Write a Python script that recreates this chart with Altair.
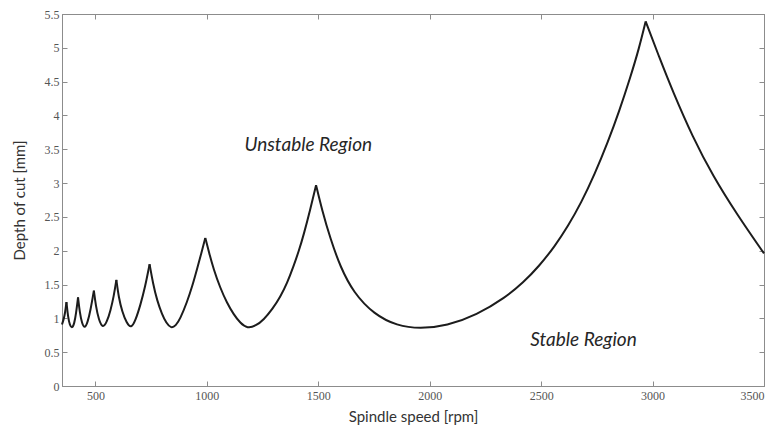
import altair as alt
import pandas as pd

# Stability lobes: each list runs from one cusp to the next
seg_speed = [
    [350, 357, 364, 370],
    [370, 377, 385, 395, 405, 413, 422],
    [422, 430, 440, 452, 465, 478, 493],
    [493, 502, 515, 533, 552, 568, 582, 594],
    [594, 605, 620, 640, 660, 680, 702, 722, 743],
    [743, 758, 777, 799, 818, 840, 860, 880, 911, 935, 956, 975, 993],
    [993, 1010, 1030, 1060, 1090, 1120, 1150, 1182, 1220, 1255, 1295, 1330,
     1360, 1389, 1414, 1434, 1464, 1490],
    [1490, 1517, 1554, 1599, 1658, 1750, 1853, 1957, 2077, 2211, 2340, 2420,
     2490, 2560, 2620, 2680, 2740, 2800, 2850, 2900, 2940, 2969],
    [2969, 3030, 3090, 3180, 3270, 3380, 3500],
]
seg_depth = [
    [0.91, 0.98, 1.08, 1.24],
    [1.24, 1.02, 0.90, 0.85, 0.92, 1.07, 1.31],
    [1.31, 1.08, 0.92, 0.85, 0.94, 1.12, 1.41],
    [1.41, 1.18, 0.98, 0.85, 0.95, 1.12, 1.32, 1.57],
    [1.57, 1.30, 1.10, 0.93, 0.85, 0.97, 1.20, 1.45, 1.80],
    [1.80, 1.52, 1.26, 1.06, 0.93, 0.85, 0.89, 0.99, 1.24, 1.48, 1.73, 1.96, 2.19],
    [2.19, 1.97, 1.73, 1.45, 1.23, 1.06, 0.93, 0.85, 0.89, 0.98, 1.14, 1.32,
     1.52, 1.77, 2.01, 2.23, 2.61, 2.97],
    [2.97, 2.60, 2.18, 1.76, 1.38, 1.06, 0.89, 0.845, 0.89, 1.05, 1.31, 1.53,
     1.77, 2.06, 2.36, 2.71, 3.13, 3.61, 4.06, 4.56, 5.00, 5.39],
    [5.39, 4.86, 4.36, 3.68, 3.11, 2.53, 1.96],
]

x_ticks = [500, 1000, 1500, 2000, 2500, 3000, 3500]
y_ticks = [0, 0.5, 1, 1.5, 2, 2.5, 3, 3.5, 4, 4.5, 5, 5.5]

region_labels = ["Unstable Region", "Stable Region"]
region_speed = [1455, 2690]
region_depth = [3.57, 0.68]

rows = []
for i, (xs, ys) in enumerate(zip(seg_speed, seg_depth)):
    for s, d in zip(xs, ys):
        rows.append({"speed": s, "depth": d, "lobe": i})
lobes = pd.DataFrame(rows)
labels = pd.DataFrame({"speed": region_speed, "depth": region_depth,
                       "text": region_labels})

AXIS_GREY = "#8c8c8c"
x_scale = alt.Scale(domain=[350, 3500], nice=False, zero=False)
y_scale = alt.Scale(domain=[0, 5.5], nice=False)
inward = alt.ExprRef(expr="-5")

common_axis = dict(grid=False, domainColor=AXIS_GREY, tickColor=AXIS_GREY,
                   domainWidth=1, tickWidth=1, tickSize=inward)

# B-spline through each lobe keeps the cusps (segment ends) sharp
curve = alt.Chart(lobes).mark_line(
    color="#1c1c1c", strokeWidth=2, interpolate="basis"
).encode(
    x=alt.X("speed:Q", scale=x_scale,
            axis=alt.Axis(values=x_ticks, format="d",
                          title="Spindle speed [rpm]",
                          labelFont="Liberation Serif", labelFontSize=12,
                          labelColor="#555555", labelPadding=9,
                          titleFont="Lato", titleFontSize=15,
                          titleFontWeight="normal", titleColor="#333333",
                          titlePadding=8, **common_axis)),
    y=alt.Y("depth:Q", scale=y_scale,
            axis=alt.Axis(values=y_ticks, format="~g",
                          title="Depth of cut [mm]",
                          labelFont="Liberation Serif", labelFontSize=12,
                          labelColor="#555555", labelPadding=8,
                          titleFont="Lato", titleFontSize=15,
                          titleFontWeight="normal", titleColor="#333333",
                          titlePadding=17, **common_axis)),
    detail="lobe:N",
)

# Frame ticks on the top and right edges
frame = alt.Chart(lobes).mark_line(opacity=0).encode(
    x=alt.X("speed:Q", scale=x_scale,
            axis=alt.Axis(orient="top", values=x_ticks, labels=False,
                          title=None, **common_axis)),
    y=alt.Y("depth:Q", scale=y_scale,
            axis=alt.Axis(orient="right", values=y_ticks, labels=False,
                          title=None, **common_axis)),
    detail="lobe:N",
)

notes = alt.Chart(labels).mark_text(
    font="Lato", fontStyle="italic", fontSize=19, color="#262626"
).encode(
    x=alt.X("speed:Q", scale=x_scale, axis=None),
    y=alt.Y("depth:Q", scale=y_scale, axis=None),
    text="text:N",
)

chart = alt.layer(curve, frame, notes).resolve_axis(
    x="independent", y="independent"
).properties(
    width=702, height=372,
    autosize=alt.AutoSizeParams(type="none"),
    padding={"left": 62, "top": 14, "right": 6, "bottom": 40},
    background="white",
).configure_view(stroke=AXIS_GREY, strokeWidth=1)

chart.save("out.html", embed_options={"renderer": "svg", "actions": False})
